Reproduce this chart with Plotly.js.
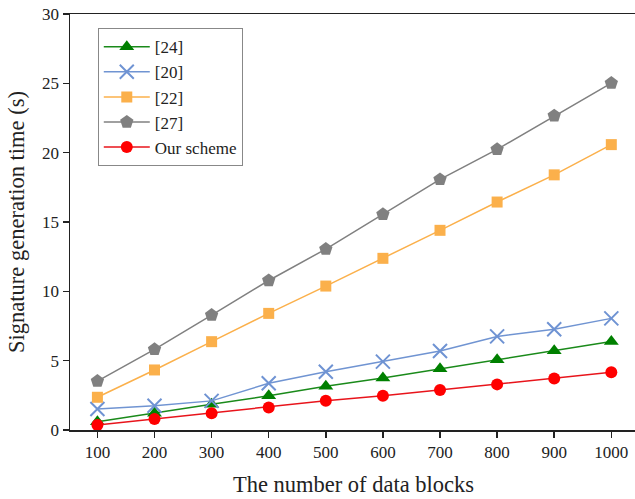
<!DOCTYPE html>
<html>
<head>
<meta charset="utf-8">
<script src="https://cdn.plot.ly/plotly-3.0.1.min.js"></script>
<style>
html,body{margin:0;padding:0;overflow:hidden;background:#fff;}
#chart{width:640px;height:499px;}
</style>
</head>
<body>
<div id="chart"></div>
<script>
const blocks = [100, 200, 300, 400, 500, 600, 700, 800, 900, 1000];
const ref24 = [0.6, 1.2, 1.85, 2.47, 3.15, 3.75, 4.42, 5.07, 5.72, 6.38];
const ref20 = [1.51, 1.75, 2.1, 3.37, 4.2, 4.93, 5.7, 6.75, 7.26, 8.05];
const ref22 = [2.36, 4.33, 6.37, 8.41, 10.38, 12.38, 14.4, 16.44, 18.4, 20.58];
const ref27 = [3.53, 5.82, 8.29, 10.78, 13.05, 15.55, 18.07, 20.24, 22.66, 25.02];
const ours = [0.36, 0.79, 1.2, 1.63, 2.11, 2.47, 2.88, 3.29, 3.72, 4.16];

const seriesNames = ['[24]', '[20]', '[22]', '[27]', 'Our scheme'];

const traces = [
  {x: blocks, y: ref24, name: seriesNames[0], mode: 'lines+markers', type: 'scatter',
   line: {color: '#1a8a1a', width: 1.5},
   marker: {symbol: 'triangle-up', size: 13, color: '#008000'}},
  {x: blocks, y: ref20, name: seriesNames[1], mode: 'lines+markers', type: 'scatter',
   line: {color: '#7094d2', width: 1.5},
   marker: {symbol: 'x-thin-open', size: 14, color: '#6f93d3', line: {color: '#6f93d3', width: 2}}},
  {x: blocks, y: ref22, name: seriesNames[2], mode: 'lines+markers', type: 'scatter',
   line: {color: '#fbb04b', width: 1.5},
   marker: {symbol: 'square', size: 11, color: '#fbb04b'}},
  {x: blocks, y: ref27, name: seriesNames[3], mode: 'lines+markers', type: 'scatter',
   line: {color: '#808080', width: 1.5},
   marker: {symbol: 'pentagon', size: 14, color: '#808080'}},
  {x: blocks, y: ours, name: seriesNames[4], mode: 'lines+markers', type: 'scatter',
   line: {color: '#e8141b', width: 1.5},
   marker: {symbol: 'circle', size: 12, color: '#ff0000'}}
];

const layout = {
  width: 640, height: 499,
  margin: {l: 70, r: 3, t: 14, b: 69},
  paper_bgcolor: '#fff', plot_bgcolor: '#fff',
  font: {family: 'Liberation Serif, Times New Roman, serif', color: '#222', size: 17},
  showlegend: true,
  legend: {
    x: 0.049, y: 0.966, xanchor: 'left', yanchor: 'top',
    bgcolor: '#fff', bordercolor: '#888', borderwidth: 1,
    font: {family: 'Liberation Serif, Times New Roman, serif', size: 17, color: '#222'},
    itemwidth: 46,
    tracegroupgap: 0
  },
  xaxis: {
    range: [52, 1045],
    tickvals: blocks,
    ticktext: blocks.map(String),
    showline: true, linecolor: '#222', linewidth: 1.5, mirror: true,
    ticks: 'outside', ticklen: 6, tickwidth: 1.5, tickcolor: '#222',
    showgrid: false, zeroline: false,
    tickfont: {size: 17},
    title: {text: 'The number of data blocks', font: {size: 22.5}, standoff: 15}
  },
  yaxis: {
    range: [0, 30],
    tickvals: [0, 5, 10, 15, 20, 25, 30],
    showline: true, linecolor: '#222', linewidth: 1.5, mirror: true,
    ticks: 'outside', ticklen: 6, tickwidth: 1.5, tickcolor: '#222',
    showgrid: false, zeroline: false,
    tickfont: {size: 17},
    title: {text: 'Signature generation time (s)', font: {size: 22.5}, standoff: 11}
  }
};

Plotly.newPlot('chart', traces, layout, {displayModeBar: false, staticPlot: true});
</script>
</body>
</html>
